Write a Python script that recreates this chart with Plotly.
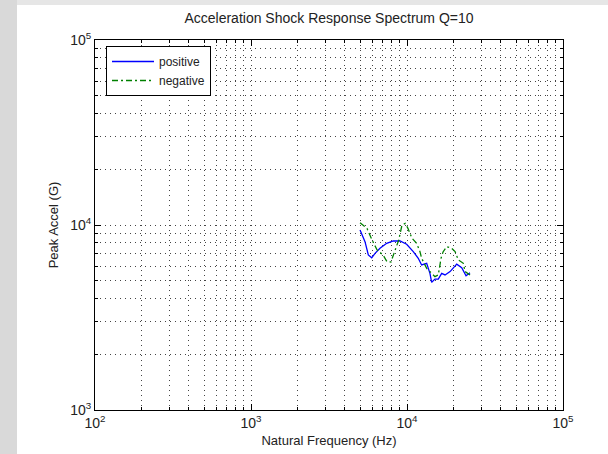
import plotly.graph_objects as go

# Data
pos_freq = [5000, 5380, 5650, 5940, 6240, 6710, 7410, 8170, 9020, 9950, 10970, 11810,
            12410, 13370, 14030, 14390, 15110, 15870, 16690, 17530, 18880, 20830,
            22430, 23900, 25350]
pos_accel = [9400, 8130, 6885, 6650, 7030, 7480, 7960, 8195, 8195, 7870, 7180, 6610,
             6080, 6210, 5480, 4900, 5100, 5100, 5480, 5370, 5600, 6140, 5870, 5320, 5520]

neg_freq = [5000, 5540, 5970, 6430, 7020, 7440, 7890, 8260, 8850, 9290, 9750, 10140,
            10760, 11530, 12110, 12410, 13370, 14390, 15110, 15870, 16530, 17020,
            17980, 19350, 20330, 21340, 22970, 23560, 25350]
neg_accel = [10300, 9590, 8300, 7330, 6890, 6340, 6310, 6970, 8300, 10000, 10210, 9590,
             8480, 7960, 7180, 6610, 5830, 5480, 5260, 5370, 6610, 7150, 7640, 7480,
             7180, 6470, 6210, 5600, 5370]

x_tickvals = [1e2, 1e3, 1e4, 1e5]
x_ticktext = ["10<sup>2</sup>", "10<sup>3</sup>", "10<sup>4</sup>", "10<sup>5</sup>"]
y_tickvals = [1e3, 1e4, 1e5]
y_ticktext = ["10<sup>3</sup>", "10<sup>4</sup>", "10<sup>5</sup>"]

FONT = "Liberation Sans, Arial, sans-serif"

fig = go.Figure()
fig.add_trace(go.Scatter(x=pos_freq, y=pos_accel, mode="lines", name="positive",
                         line=dict(color="#0000ff", width=1.3)))
fig.add_trace(go.Scatter(x=neg_freq, y=neg_accel, mode="lines", name="negative",
                         line=dict(color="#008000", width=1.3, dash="6px,3px,2px,3px")))

L, R, T, B = 95, 45, 40, 44
W, H = 608, 454
pw = W - L - R
ph = H - T - B

def px2x(px):
    return (px - L) / pw

def py2y(py):
    return (H - B - py) / ph

GRID = "#444444"
DOTS = "1px,4px"

axis_common = dict(
    type="log", showline=True, linecolor="black", linewidth=1, mirror="ticks",
    ticks="inside", ticklen=6, tickcolor="black",
    showgrid=True, gridcolor=GRID, griddash=DOTS, gridwidth=1,
    zeroline=False,
    tickfont=dict(family=FONT, size=14, color="#222222"),
    minor=dict(dtick="D1", ticks="inside", ticklen=3, tickcolor="black",
               showgrid=True, gridcolor=GRID, griddash=DOTS, gridwidth=1),
)

fig.update_xaxes(range=[2, 5], tickvals=x_tickvals, ticktext=x_ticktext,
                 title=dict(text="Natural Frequency (Hz)", font=dict(family=FONT, size=13, color="#222222"),
                            standoff=6),
                 **axis_common)
fig.update_yaxes(range=[3, 5], tickvals=y_tickvals, ticktext=y_ticktext,
                 title=dict(text="Peak Accel (G)", font=dict(family=FONT, size=13, color="#222222"),
                            standoff=8),
                 **axis_common)

fig.update_layout(
    width=W, height=H,
    margin=dict(l=L, r=R, t=T, b=B, autoexpand=False),
    paper_bgcolor="white", plot_bgcolor="white",
    title=dict(text="Acceleration Shock Response Spectrum Q=10",
               font=dict(family=FONT, size=14, color="#222222"),
               x=px2x(329), xref="paper", xanchor="center",
               y=1 - 18 / H, yref="container", yanchor="middle"),
    legend=dict(x=px2x(106), y=py2y(46), xanchor="left", yanchor="top",
                bgcolor="white", bordercolor="black", borderwidth=1,
                font=dict(family=FONT, size=12, color="#222222"),
                itemwidth=42, tracegroupgap=0),
    showlegend=True,
    shapes=[
        dict(type="rect", xref="paper", yref="paper",
             x0=px2x(0), x1=px2x(W), y0=py2y(5), y1=py2y(0),
             fillcolor="#e6e6e6", line=dict(width=0), layer="above"),
        dict(type="rect", xref="paper", yref="paper",
             x0=px2x(0), x1=px2x(17), y0=py2y(H), y1=py2y(0),
             fillcolor="#d9d9d9", line=dict(width=0), layer="above"),
    ],
)

fig.write_html("out.html")
